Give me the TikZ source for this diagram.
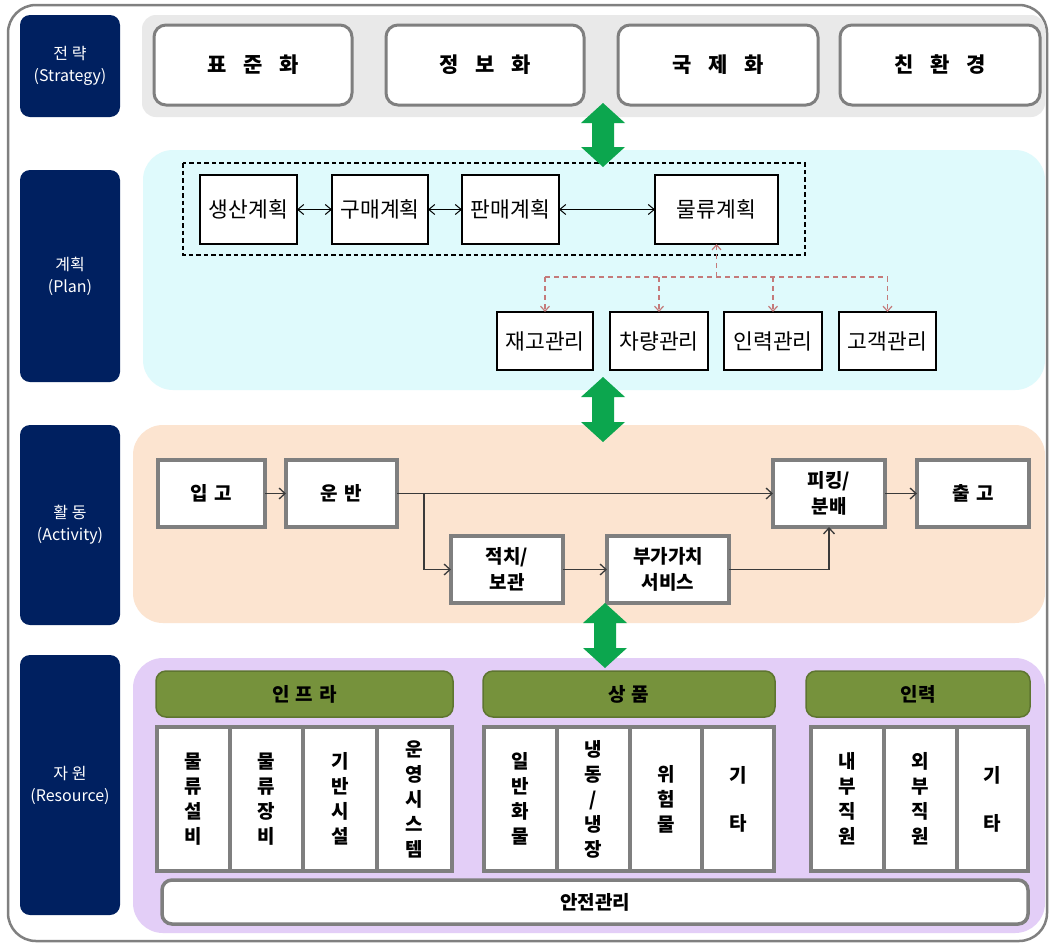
\documentclass[tikz,border=0pt]{standalone}
\usepackage{fontspec}
\setmainfont{Noto Sans CJK KR}
\usetikzlibrary{arrows.meta,calc}
\definecolor{navy}{HTML}{002060}
\definecolor{frameg}{HTML}{808080}
\definecolor{stratbg}{HTML}{E9E9E9}
\definecolor{planbg}{HTML}{DFFAFC}
\definecolor{actbg}{HTML}{FCE4D0}
\definecolor{resbg}{HTML}{E3CEF7}
\definecolor{olive}{HTML}{76923C}
\definecolor{boxg}{HTML}{7F7F7F}
\definecolor{arrg}{HTML}{0CA64E}
\definecolor{redd}{HTML}{C47A7A}
\definecolor{darkln}{HTML}{3A3A3A}
\newcommand\gsp[1]{\hspace{#1pt}}
\newcommand\gdarrow[3]{\fill[arrg] (#1,#2) -- (#1+22,#2+20) -- (#1+11,#2+20) -- (#1+11,#3-20) -- (#1+22,#3-20) -- (#1,#3) -- (#1-22,#3-20) -- (#1-11,#3-20) -- (#1-11,#2+20) -- (#1-22,#2+20) -- cycle;}
\tikzset{
  lbl/.style={fill=navy, rounded corners=10pt, text=white, align=center, font=\fontsize{16}{22}\selectfont, inner sep=0pt, outer sep=0pt},
  strat/.style={draw=boxg, line width=3pt, fill=white, rounded corners=12pt, minimum height=80pt, font=\fontsize{21}{24}\selectfont\bfseries, inner sep=0pt, outer sep=0pt},
  planbox/.style={draw=black, line width=1.3pt, fill=white, minimum height=69pt, font=\fontsize{21.5}{24}\selectfont, inner sep=0pt, outer sep=0pt},
  mgmt/.style={draw=black, line width=1.3pt, fill=white, minimum height=58pt, font=\fontsize{21.5}{24}\selectfont, inner sep=0pt, outer sep=0pt},
  actbox/.style={draw=boxg, line width=4pt, fill=white, minimum height=67pt, align=center, font=\fontsize{19}{26}\selectfont\bfseries, inner sep=0pt, outer sep=0pt},
  hdr/.style={draw=olive!80!black, line width=1.5pt, fill=olive, rounded corners=10pt, minimum height=46pt, font=\fontsize{19}{24}\selectfont\bfseries, inner sep=0pt, outer sep=0pt},
  col/.style={draw=boxg, line width=3.5pt, fill=white, minimum height=144pt, align=center, font=\fontsize{19}{25}\selectfont\bfseries, inner sep=0pt, outer sep=0pt},
  biarr/.style={line width=1pt, {Straight Barb[length=6pt,width=10pt]}-{Straight Barb[length=6pt,width=10pt]}},
  redarr/.style={draw=redd, line width=1.2pt, dash pattern=on 5pt off 4pt, -{Straight Barb[length=5pt,width=9pt]}},
  flow/.style={draw=darkln, line width=1.3pt, -{Straight Barb[length=6pt,width=11pt]}},
}
\begin{document}
\begin{tikzpicture}[x=1pt,y=-1pt]
\useasboundingbox (0,0) rectangle (1051,945);
\fill[white] (0,0) rectangle (1051,945);
% outer frame
\draw[frameg, line width=2.5pt, rounded corners=28pt] (8,5) rectangle (1047,941);
% bands
\fill[stratbg, rounded corners=14pt] (142,15) rectangle (1045,117);
\fill[planbg, rounded corners=30pt] (143,150) rectangle (1045,390);
\fill[actbg, rounded corners=30pt] (133,425) rectangle (1045,623);
\fill[resbg, rounded corners=30pt] (133,658) rectangle (1045,933);
% left labels
\node[lbl, minimum width=100pt, minimum height=102pt] (lS) at (70,66) {전 략\\(Strategy)};
\node[lbl, minimum width=100pt, minimum height=212pt] (lP) at (70,276) {계획\\(Plan)};
\node[lbl, minimum width=100pt, minimum height=200pt] (lA) at (70,525) {활 동\\(Activity)};
\node[lbl, minimum width=100pt, minimum height=260pt] (lR) at (70,785) {자 원\\(Resource)};
% strategy
\node[strat, minimum width=198pt] (s1) at (253,65) {표\gsp{17}준\gsp{17}화};
\node[strat, minimum width=198pt] (s2) at (485,65) {정\gsp{17}보\gsp{17}화};
\node[strat, minimum width=200pt] (s3) at (718,65) {국\gsp{17}제\gsp{17}화};
\node[strat, minimum width=200pt] (s4) at (940,65) {친\gsp{17}환\gsp{17}경};
% plan
\draw[black, line width=1.2pt, dash pattern=on 4.5pt off 3pt] (183,163) rectangle (805,255);
\node[planbox, minimum width=97pt] (p1) at (248.5,209.5) {생산계획};
\node[planbox, minimum width=96pt] (p2) at (380,209.5) {구매계획};
\node[planbox, minimum width=97pt] (p3) at (510.5,209.5) {판매계획};
\node[planbox, minimum width=123pt] (p4) at (716.5,209.5) {물류계획};
\draw[biarr] (p1) -- (p2);
\draw[biarr] (p2) -- (p3);
\draw[biarr] (p3) -- (p4);
\node[mgmt, minimum width=96pt] (m1) at (545,341) {재고관리};
\node[mgmt, minimum width=98pt] (m2) at (659,341) {차량관리};
\node[mgmt, minimum width=98pt] (m3) at (773,341) {인력관리};
\node[mgmt, minimum width=97pt] (m4) at (887.5,341) {고객관리};
\coordinate (jn) at (716.5,277);
\draw[redarr] (jn) -- (p4.south);
\draw[draw=redd, line width=1.2pt, dash pattern=on 5pt off 4pt] (m1.north |- jn) -- (m4.north |- jn);
\draw[redarr] (m1.north |- jn) -- (m1.north);
\draw[redarr] (m2.north |- jn) -- (m2.north);
\draw[redarr] (m3.north |- jn) -- (m3.north);
\draw[redarr] (m4.north |- jn) -- (m4.north);
% activity
\node[actbox, minimum width=107pt] (a1) at (211.5,493.5) {입\gsp{7}고};
\node[actbox, minimum width=111pt] (a2) at (341.5,493.5) {운\gsp{7}반};
\node[actbox, minimum width=112pt] (a3) at (507,569.5) {적치/\\보관};
\node[actbox, minimum width=122pt] (a4) at (668,569.5) {부가가치\\서비스};
\node[actbox, minimum width=112pt] (a5) at (829,493.5) {피킹/\\분배};
\node[actbox, minimum width=112pt] (a6) at (973,493.5) {출\gsp{7}고};
\coordinate (br) at (424,493.5);
\draw[flow] (a1) -- (a2);
\draw[flow] (a2) -- (a5);
\draw[flow] (br) |- (a3.west);
\draw[flow] (a3) -- (a4);
\draw[flow] (a4.east) -| (a5.south);
\draw[flow] (a5) -- (a6);
% resource
\node[hdr, minimum width=297pt] (h1) at (304.5,694) {인\gsp{6}프\gsp{6}라};
\node[hdr, minimum width=292pt] (h2) at (629,694) {상\gsp{6}품};
\node[hdr, minimum width=224pt] (h3) at (918,694) {인력};
\node[col, minimum width=73pt] (c1) at (193.5,799) {물\\류\\설\\비};
\node[col, minimum width=73pt] (c2) at (266.5,799) {물\\류\\장\\비};
\node[col, minimum width=74pt] (c3) at (340,799) {기\\반\\시\\설};
\node[col, minimum width=75pt] (c4) at (414.5,799) {운\\영\\시\\스\\템};
\node[col, minimum width=73pt] (c5) at (520.5,799) {일\\반\\화\\물};
\node[col, minimum width=73pt] (c6) at (593.5,799) {냉\\동\\/\\냉\\장};
\node[col, minimum width=72pt] (c7) at (666,799) {위\\험\\물};
\node[col, minimum width=72pt] (c8) at (738,799) {기\\[23pt]타};
\node[col, minimum width=73pt] (c9) at (847.5,799) {내\\부\\직\\원};
\node[col, minimum width=73pt] (c10) at (920.5,799) {외\\부\\직\\원};
\node[col, minimum width=71pt] (c11) at (992.5,799) {기\\[23pt]타};
\node[draw=boxg, line width=3.5pt, fill=white, rounded corners=10pt, minimum width=866pt, minimum height=44pt, font=\fontsize{19}{24}\selectfont\bfseries, inner sep=0pt] (safe) at (595,902) {안전관리};
% green double arrows
\gdarrow{603}{103}{167}
\gdarrow{603}{377}{442}
\gdarrow{605}{603}{668}
\end{tikzpicture}
\end{document}
